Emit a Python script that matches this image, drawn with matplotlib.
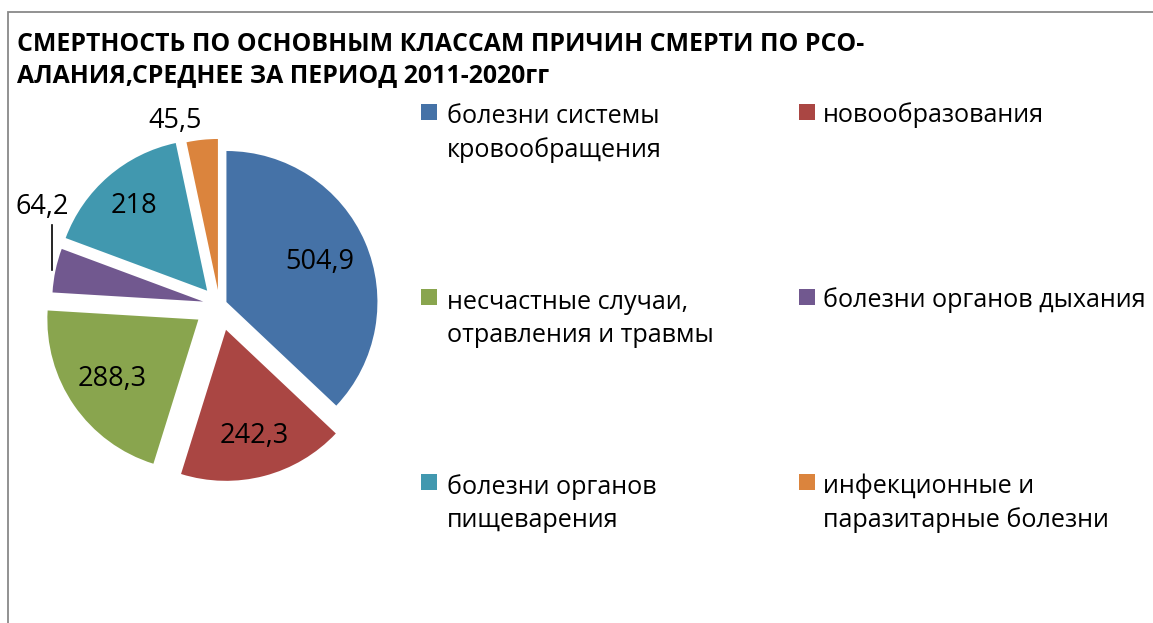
import matplotlib
matplotlib.use("Agg")
import matplotlib.pyplot as plt
import numpy as np
from matplotlib.patches import Rectangle
from matplotlib.lines import Line2D

plt.rcParams['font.family'] = ['Open Sans', 'DejaVu Sans']

# ---- data ----
categories = [
    "болезни системы\nкровообращения",
    "новообразования",
    "несчастные случаи,\nотравления и травмы",
    "болезни органов дыхания",
    "болезни органов\nпищеварения",
    "инфекционные и\nпаразитарные болезни",
]
values = [504.9, 242.3, 288.3, 64.2, 218, 45.5]
value_labels = ["504,9", "242,3", "288,3", "64,2", "218", "45,5"]
title_text = "СМЕРТНОСТЬ ПО ОСНОВНЫМ КЛАССАМ ПРИЧИН СМЕРТИ ПО РСО-\nАЛАНИЯ,СРЕДНЕЕ ЗА ПЕРИОД 2011-2020гг"

# ---- style ----
colors = ["#4572A7", "#AA4643", "#89A54E", "#71588F", "#4198AF", "#DB843D"]
explode = [0.05, 0.17, 0.17, 0.11, 0.125, 0.10]
label_dist = [0.67, 0.73, 0.69, None, 0.74, None]

W, H = 1153, 623
fig = plt.figure(figsize=(W / 100, H / 100), dpi=100)

# frame of the chart area (extends past the right/bottom edge)
fig.patches.append(Rectangle((8 / W, -0.1), 1.2, 1 - 12 / H + 0.1,
                             transform=fig.transFigure, fill=False,
                             edgecolor="#898989", linewidth=1.3))

# ---- pie ----
R = 151.0
cx, cy = 219.5, 305.0
L = 1.45
side = 2 * L * R
ax = fig.add_axes([(cx - side / 2) / W, (H - cy - side / 2) / H, side / W, side / H])
wedges, _ = ax.pie(values, colors=colors, startangle=90, counterclock=False,
                   explode=explode, radius=1, wedgeprops=dict(linewidth=0))
ax.set_xlim(-L, L)
ax.set_ylim(-L, L)
ax.set_aspect("equal")
ax.axis("off")

fs = 19.5
for i, w in enumerate(wedges):
    mid = np.deg2rad((w.theta1 + w.theta2) / 2)
    d = np.array([np.cos(mid), np.sin(mid)])
    c = np.array(w.center)
    if label_dist[i] is not None:
        p = c + label_dist[i] * d
        ax.text(p[0], p[1], value_labels[i], ha="center", va="center", fontsize=fs)
    else:
        outer = c + w.r * d
        if i == 3:
            x = outer[0] - 0.02
            ax.add_line(Line2D([x, x], [outer[1], outer[1] + 0.30], color="black", lw=1.2))
            ax.text(x - 0.066, outer[1] + 0.42, value_labels[i], ha="center", va="center", fontsize=fs)
        else:
            ax.text(outer[0] - 0.18, outer[1] + 0.125, value_labels[i], ha="center", va="center", fontsize=fs)

# ---- title (baseline of last line given) ----
title_fs = 17.9
title_ls = 1.3 * 18.5 / title_fs * 34 / 35
fig.text(17 / W, 1 - (48 + 34) / H, title_text, ha="left", va="baseline", fontsize=title_fs,
         fontweight="bold", linespacing=title_ls)

# ---- legend (2 columns, row-major like Excel) ----
leg_fs = 18.1
leg_ls = 1.3 * 19.5 / leg_fs
line_px = 35
col_marker_x = [421, 799]
col_text_x = [447, 823]
row_baseline = [122, 307, 492]
msize = 16
for i, (lab, col) in enumerate(zip(categories, colors)):
    r, k = divmod(i, 2)
    base = row_baseline[r]
    fig.patches.append(Rectangle((col_marker_x[k] / W, 1 - (base - 2) / H), msize / W, msize / H,
                                 transform=fig.transFigure, facecolor=wedges[i].get_facecolor(),
                                 edgecolor="none"))
    nlines = lab.count("\n")
    fig.text(col_text_x[k] / W, 1 - (base + nlines * line_px) / H, lab, ha="left", va="baseline",
             fontsize=leg_fs, linespacing=leg_ls)

fig.savefig("out.png", dpi=100)
